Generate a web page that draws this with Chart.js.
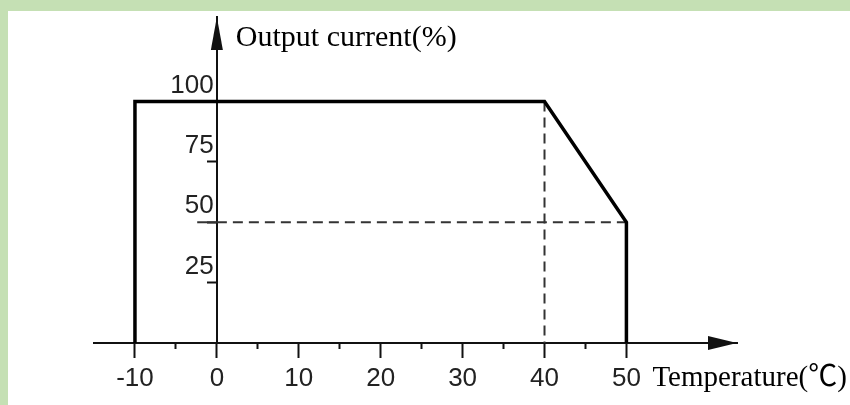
<!DOCTYPE html>
<html>
<head>
<meta charset="utf-8">
<script src="https://cdn.jsdelivr.net/npm/chart.js@4"></script>
<style>
  body { margin: 0; background: #c5e0b4; width: 850px; height: 405px; overflow: hidden; }
  #box { position: absolute; left: 8px; top: 11px; width: 842px; height: 394px; background: #fff; }
</style>
</head>
<body>
<div id="box"><canvas id="derating" width="842" height="394"></canvas></div>
<script>
// derating curve: temperature (C) vs output current (%)
const curveTemp = [-10, -10, 40, 50, 50];
const curveOut = [0, 100, 100, 50, 0];

// dashed guide lines
const guideVTemp = [40, 40];
const guideVOut = [100, 0];
const guideHTemp = [-2.4, 0, 50];
const guideHOut = [50, 50, 50];

const xTicks = [-10, 0, 10, 20, 30, 40, 50];
const xMinorTicks = [-5, 5, 15, 25, 35, 45];
const yTicks = [25, 50, 75, 100];

const xTitle = 'Temperature(\u2103)';
const yTitle = 'Output current(%)';

const tickFont = "'Liberation Sans', 'DejaVu Sans Condensed', sans-serif";
const titleFont = "'Liberation Serif', 'Noto Sans CJK SC', serif";

function toPoints(xs, ys) {
  return xs.map((x, i) => ({ x: x, y: ys[i] }));
}

function noPad(s) {
  s.paddingTop = 0;
  s.paddingBottom = 0;
  s.paddingLeft = 0;
  s.paddingRight = 0;
}

// arrow heads + the two axis captions
const axisExtras = {
  id: 'axisExtras',
  afterDraw(chart) {
    const ctx = chart.ctx;
    const xs = chart.scales.x;
    const ys = chart.scales.y;
    const x0 = xs.getPixelForValue(0);
    const y0 = ys.getPixelForValue(0);
    const area = chart.chartArea;

    ctx.save();
    ctx.fillStyle = '#111';
    // up arrow
    ctx.beginPath();
    ctx.moveTo(x0, area.top);
    ctx.lineTo(x0 + 6, area.top + 33);
    ctx.lineTo(x0 - 6, area.top + 33);
    ctx.closePath();
    ctx.fill();
    // right arrow
    ctx.beginPath();
    ctx.moveTo(area.right, y0);
    ctx.lineTo(area.right - 29, y0 - 7);
    ctx.lineTo(area.right - 29, y0 + 7);
    ctx.closePath();
    ctx.fill();

    ctx.fillStyle = '#000';
    ctx.textBaseline = 'alphabetic';
    ctx.textAlign = 'left';
    ctx.font = '30px ' + titleFont;
    ctx.fillText(yTitle, x0 + 19, area.top + 29);
    ctx.font = '29px ' + titleFont;
    ctx.fillText(xTitle, xs.getPixelForValue(50) + 26, y0 + 43);
    ctx.restore();
  }
};

const ctx = document.getElementById('derating').getContext('2d');
new Chart(ctx, {
  type: 'scatter',
  data: {
    datasets: [
      {
        data: toPoints(curveTemp, curveOut),
        showLine: true,
        borderColor: '#000',
        borderWidth: 3.5,
        borderJoinStyle: 'miter',
        pointRadius: 0,
        xAxisID: 'x',
        yAxisID: 'y',
        clip: false,
        order: 0
      },
      {
        data: toPoints(guideVTemp, guideVOut),
        showLine: true,
        borderColor: '#333',
        borderWidth: 2,
        borderDash: [10, 6],
        pointRadius: 0,
        xAxisID: 'x',
        yAxisID: 'y',
        clip: false,
        order: 1
      },
      {
        data: toPoints(guideHTemp, guideHOut),
        showLine: true,
        borderColor: '#333',
        borderWidth: 2,
        segment: {
          // first piece (left of the y axis) is the solid tick mark
          borderDash: c => c.p0DataIndex === 0 ? [] : [10, 6]
        },
        pointRadius: 0,
        xAxisID: 'x',
        yAxisID: 'y',
        clip: false,
        order: 1
      }
    ]
  },
  options: {
    responsive: false,
    animation: false,
    devicePixelRatio: 1,
    layout: { padding: { left: 86, right: 113, top: 6, bottom: 0 } },
    plugins: {
      legend: { display: false },
      tooltip: { enabled: false }
    },
    scales: {
      x: {
        type: 'linear',
        position: 'bottom',
        min: -15,
        max: 63.5,
        afterBuildTicks: s => { s.ticks = xTicks.map(v => ({ value: v })); },
        afterFit: s => { s.height = 62; noPad(s); },
        border: { display: true, color: '#111', width: 2 },
        grid: { drawOnChartArea: false, drawTicks: true, tickLength: 15, tickWidth: 2, tickColor: '#111' },
        ticks: {
          padding: 5,
          color: '#222',
          font: { family: tickFont, size: 26 },
          maxRotation: 0,
          autoSkip: false,
          callback: v => String(v)
        }
      },
      xMinor: {
        type: 'linear',
        axis: 'x',
        position: { y: 0 },
        min: -15,
        max: 63.5,
        afterBuildTicks: s => { s.ticks = xMinorTicks.map(v => ({ value: v })); },
        afterFit: s => { s.height = 0; noPad(s); },
        border: { display: false },
        grid: { drawOnChartArea: false, drawTicks: true, tickLength: 6, tickWidth: 2, tickColor: '#111' },
        ticks: { display: false }
      },
      y: {
        type: 'linear',
        position: { x: 0 },
        min: 0,
        max: 135,
        afterBuildTicks: s => { s.ticks = yTicks.map(v => ({ value: v })); },
        afterFit: s => { s.width = 0; noPad(s); },
        border: { display: true, color: '#111', width: 2 },
        grid: { drawOnChartArea: false, drawTicks: true, tickLength: 9, tickWidth: 2, tickColor: '#111' },
        ticks: { display: false }
      },
      // labels of the y axis sit a little left of the axis line
      yLabels: {
        type: 'linear',
        axis: 'y',
        position: { x: -0.4 },
        min: 0,
        max: 135,
        afterBuildTicks: s => { s.ticks = yTicks.map(v => ({ value: v })); },
        afterFit: s => { s.width = 0; noPad(s); },
        border: { display: false },
        grid: { display: false, drawTicks: false },
        ticks: {
          padding: 0,
          labelOffset: -16,
          color: '#222',
          font: { family: tickFont, size: 26 },
          autoSkip: false,
          callback: v => String(v)
        }
      }
    }
  },
  plugins: [axisExtras]
});
</script>
</body>
</html>
